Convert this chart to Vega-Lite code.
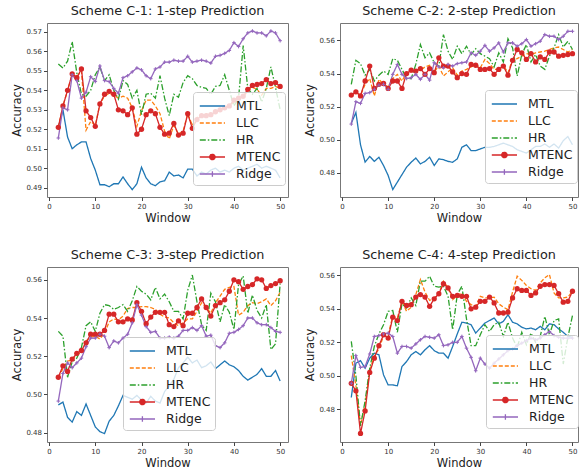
{
  "$schema": "https://vega.github.io/schema/vega-lite/v6.json",
  "background": "white",
  "padding": {"left": 11, "top": 4, "right": 0, "bottom": 0},
  "config": {
    "font": "DejaVu Sans",
    "view": {"stroke": "#777", "strokeWidth": 1},
    "title": {"font": "DejaVu Sans", "fontSize": 12.8, "fontWeight": "normal", "color": "#222", "offset": 5, "anchor": "middle"},
    "axis": {"grid": false, "domain": false, "tickColor": "#444", "tickSize": 3.5, "labelFont": "DejaVu Sans", "labelFontSize": 7, "labelColor": "#333", "labelPadding": 2, "titleFont": "DejaVu Sans", "titleFontSize": 11.5, "titleFontWeight": "normal", "titleColor": "#222", "titlePadding": 3},
    "legend": {
      "orient": "none", "title": null, "symbolType": "stroke", "symbolSize": 324, "symbolStrokeWidth": 1.3,
      "labelFont": "DejaVu Sans", "labelFontSize": 12.5, "labelColor": "#222", "labelOffset": 19,
      "fillColor": "rgba(255,255,255,0.8)", "strokeColor": "#ccc", "cornerRadius": 3, "padding": 4, "rowPadding": 0
    }
  },
  "datasets": {
    "c1": [
      {"w":2,"MTL":0.521,"LLC":0.521,"HR":0.5535,"MTENC":0.521,"Ridge":0.5155},
      {"w":3,"MTL":0.530,"LLC":0.532,"HR":0.5515,"MTENC":0.532,"Ridge":0.531},
      {"w":4,"MTL":0.516,"LLC":0.540,"HR":0.555,"MTENC":0.540,"Ridge":0.530},
      {"w":5,"MTL":0.510,"LLC":0.548,"HR":0.565,"MTENC":0.5485,"Ridge":0.548},
      {"w":6,"MTL":0.512,"LLC":0.547,"HR":0.549,"MTENC":0.5465,"Ridge":0.545},
      {"w":7,"MTL":0.5135,"LLC":0.550,"HR":0.538,"MTENC":0.551,"Ridge":0.536},
      {"w":8,"MTL":0.5135,"LLC":0.5195,"HR":0.537,"MTENC":0.5295,"Ridge":0.539},
      {"w":9,"MTL":0.505,"LLC":0.524,"HR":0.540,"MTENC":0.526,"Ridge":0.547},
      {"w":10,"MTL":0.499,"LLC":0.522,"HR":0.548,"MTENC":0.5215,"Ridge":0.5445},
      {"w":11,"MTL":0.4915,"LLC":0.533,"HR":0.552,"MTENC":0.533,"Ridge":0.5525},
      {"w":12,"MTL":0.4915,"LLC":0.537,"HR":0.545,"MTENC":0.538,"Ridge":0.545},
      {"w":13,"MTL":0.4905,"LLC":0.5385,"HR":0.548,"MTENC":0.5395,"Ridge":0.5445},
      {"w":14,"MTL":0.492,"LLC":0.5375,"HR":0.540,"MTENC":0.538,"Ridge":0.541},
      {"w":15,"MTL":0.492,"LLC":0.536,"HR":0.5355,"MTENC":0.530,"Ridge":0.5385},
      {"w":16,"MTL":0.4955,"LLC":0.537,"HR":0.545,"MTENC":0.5295,"Ridge":0.5465},
      {"w":17,"MTL":0.492,"LLC":0.536,"HR":0.543,"MTENC":0.5275,"Ridge":0.5475},
      {"w":18,"MTL":0.489,"LLC":0.531,"HR":0.536,"MTENC":0.531,"Ridge":0.5495},
      {"w":19,"MTL":0.492,"LLC":0.5215,"HR":0.540,"MTENC":0.5175,"Ridge":0.5515},
      {"w":20,"MTL":0.5005,"LLC":0.5295,"HR":0.5275,"MTENC":0.520,"Ridge":0.5505},
      {"w":21,"MTL":0.495,"LLC":0.535,"HR":0.538,"MTENC":0.5275,"Ridge":0.5475},
      {"w":22,"MTL":0.492,"LLC":0.535,"HR":0.5385,"MTENC":0.5295,"Ridge":0.546},
      {"w":23,"MTL":0.491,"LLC":0.532,"HR":0.536,"MTENC":0.528,"Ridge":0.551},
      {"w":24,"MTL":0.493,"LLC":0.528,"HR":0.5475,"MTENC":0.521,"Ridge":0.552},
      {"w":25,"MTL":0.4935,"LLC":0.519,"HR":0.536,"MTENC":0.5175,"Ridge":0.5545},
      {"w":26,"MTL":0.498,"LLC":0.515,"HR":0.527,"MTENC":0.518,"Ridge":0.5545},
      {"w":27,"MTL":0.496,"LLC":0.522,"HR":0.538,"MTENC":0.523,"Ridge":0.5555},
      {"w":28,"MTL":0.4965,"LLC":0.5175,"HR":0.5365,"MTENC":0.517,"Ridge":0.555},
      {"w":29,"MTL":0.495,"LLC":0.519,"HR":0.544,"MTENC":0.518,"Ridge":0.555},
      {"w":30,"MTL":0.4995,"LLC":0.528,"HR":0.5475,"MTENC":0.528,"Ridge":0.5575},
      {"w":31,"MTL":0.4995,"LLC":0.522,"HR":0.546,"MTENC":0.5205,"Ridge":0.5545},
      {"w":32,"MTL":0.496,"LLC":0.526,"HR":0.5425,"MTENC":0.525,"Ridge":0.555},
      {"w":33,"MTL":0.498,"LLC":0.527,"HR":0.5415,"MTENC":0.527,"Ridge":0.5555},
      {"w":34,"MTL":0.497,"LLC":0.528,"HR":0.541,"MTENC":0.527,"Ridge":0.555},
      {"w":35,"MTL":0.499,"LLC":0.527,"HR":0.538,"MTENC":0.5275,"Ridge":0.554},
      {"w":36,"MTL":0.500,"LLC":0.529,"HR":0.542,"MTENC":0.529,"Ridge":0.5575},
      {"w":37,"MTL":0.498,"LLC":0.530,"HR":0.5425,"MTENC":0.530,"Ridge":0.558},
      {"w":38,"MTL":0.499,"LLC":0.531,"HR":0.548,"MTENC":0.531,"Ridge":0.559},
      {"w":39,"MTL":0.498,"LLC":0.532,"HR":0.540,"MTENC":0.532,"Ridge":0.5605},
      {"w":40,"MTL":0.500,"LLC":0.534,"HR":0.532,"MTENC":0.535,"Ridge":0.5645},
      {"w":41,"MTL":0.501,"LLC":0.537,"HR":0.536,"MTENC":0.536,"Ridge":0.5625},
      {"w":42,"MTL":0.499,"LLC":0.536,"HR":0.563,"MTENC":0.537,"Ridge":0.5665},
      {"w":43,"MTL":0.500,"LLC":0.540,"HR":0.541,"MTENC":0.5405,"Ridge":0.5695},
      {"w":44,"MTL":0.501,"LLC":0.5415,"HR":0.538,"MTENC":0.5425,"Ridge":0.5705},
      {"w":45,"MTL":0.502,"LLC":0.5405,"HR":0.541,"MTENC":0.543,"Ridge":0.5695},
      {"w":46,"MTL":0.500,"LLC":0.5375,"HR":0.534,"MTENC":0.5435,"Ridge":0.5695},
      {"w":47,"MTL":0.501,"LLC":0.541,"HR":0.541,"MTENC":0.5455,"Ridge":0.568},
      {"w":48,"MTL":0.500,"LLC":0.541,"HR":0.552,"MTENC":0.5435,"Ridge":0.5705},
      {"w":49,"MTL":0.499,"LLC":0.542,"HR":0.5415,"MTENC":0.544,"Ridge":0.5695},
      {"w":50,"MTL":0.495,"LLC":0.541,"HR":0.530,"MTENC":0.542,"Ridge":0.5655}
    ],
    "c2": [
      {"w":2,"MTL":0.510,"LLC":0.527,"HR":0.5335,"MTENC":0.527,"Ridge":0.5095},
      {"w":3,"MTL":0.5165,"LLC":0.5285,"HR":0.548,"MTENC":0.529,"Ridge":0.523},
      {"w":4,"MTL":0.497,"LLC":0.527,"HR":0.546,"MTENC":0.5265,"Ridge":0.522},
      {"w":5,"MTL":0.4865,"LLC":0.5335,"HR":0.539,"MTENC":0.5355,"Ridge":0.528},
      {"w":6,"MTL":0.490,"LLC":0.537,"HR":0.5425,"MTENC":0.5445,"Ridge":0.5285},
      {"w":7,"MTL":0.487,"LLC":0.5265,"HR":0.5355,"MTENC":0.531,"Ridge":0.5305},
      {"w":8,"MTL":0.4895,"LLC":0.5365,"HR":0.539,"MTENC":0.5335,"Ridge":0.533},
      {"w":9,"MTL":0.4845,"LLC":0.5335,"HR":0.5415,"MTENC":0.534,"Ridge":0.5335},
      {"w":10,"MTL":0.4785,"LLC":0.532,"HR":0.5395,"MTENC":0.531,"Ridge":0.5305},
      {"w":11,"MTL":0.470,"LLC":0.537,"HR":0.549,"MTENC":0.5355,"Ridge":0.5395},
      {"w":12,"MTL":0.4745,"LLC":0.5395,"HR":0.548,"MTENC":0.5355,"Ridge":0.5455},
      {"w":13,"MTL":0.479,"LLC":0.5355,"HR":0.5425,"MTENC":0.531,"Ridge":0.5395},
      {"w":14,"MTL":0.4835,"LLC":0.5405,"HR":0.537,"MTENC":0.540,"Ridge":0.537},
      {"w":15,"MTL":0.4865,"LLC":0.541,"HR":0.537,"MTENC":0.542,"Ridge":0.5375},
      {"w":16,"MTL":0.489,"LLC":0.5425,"HR":0.5455,"MTENC":0.5415,"Ridge":0.5395},
      {"w":17,"MTL":0.4855,"LLC":0.542,"HR":0.5575,"MTENC":0.543,"Ridge":0.5365},
      {"w":18,"MTL":0.487,"LLC":0.544,"HR":0.5495,"MTENC":0.5395,"Ridge":0.5395},
      {"w":19,"MTL":0.4895,"LLC":0.545,"HR":0.5525,"MTENC":0.543,"Ridge":0.536},
      {"w":20,"MTL":0.4845,"LLC":0.541,"HR":0.5465,"MTENC":0.5405,"Ridge":0.5465},
      {"w":21,"MTL":0.4885,"LLC":0.5445,"HR":0.5445,"MTENC":0.5495,"Ridge":0.544},
      {"w":22,"MTL":0.488,"LLC":0.5385,"HR":0.5635,"MTENC":0.5445,"Ridge":0.5435},
      {"w":23,"MTL":0.487,"LLC":0.541,"HR":0.5535,"MTENC":0.5445,"Ridge":0.5455},
      {"w":24,"MTL":0.4865,"LLC":0.5435,"HR":0.5485,"MTENC":0.541,"Ridge":0.5445},
      {"w":25,"MTL":0.4885,"LLC":0.539,"HR":0.5565,"MTENC":0.5375,"Ridge":0.546},
      {"w":26,"MTL":0.4955,"LLC":0.5415,"HR":0.552,"MTENC":0.540,"Ridge":0.5465},
      {"w":27,"MTL":0.497,"LLC":0.5425,"HR":0.5565,"MTENC":0.5395,"Ridge":0.547},
      {"w":28,"MTL":0.4935,"LLC":0.544,"HR":0.5515,"MTENC":0.5455,"Ridge":0.5525},
      {"w":29,"MTL":0.4935,"LLC":0.5455,"HR":0.555,"MTENC":0.545,"Ridge":0.551},
      {"w":30,"MTL":0.4945,"LLC":0.5435,"HR":0.552,"MTENC":0.5425,"Ridge":0.5535},
      {"w":31,"MTL":0.4955,"LLC":0.5485,"HR":0.5505,"MTENC":0.5425,"Ridge":0.557},
      {"w":32,"MTL":0.4955,"LLC":0.546,"HR":0.549,"MTENC":0.543,"Ridge":0.5535},
      {"w":33,"MTL":0.496,"LLC":0.5425,"HR":0.544,"MTENC":0.5395,"Ridge":0.5555},
      {"w":34,"MTL":0.497,"LLC":0.5425,"HR":0.5525,"MTENC":0.5425,"Ridge":0.5585},
      {"w":35,"MTL":0.498,"LLC":0.545,"HR":0.547,"MTENC":0.5445,"Ridge":0.553},
      {"w":36,"MTL":0.497,"LLC":0.5405,"HR":0.561,"MTENC":0.539,"Ridge":0.5585},
      {"w":37,"MTL":0.496,"LLC":0.5485,"HR":0.5555,"MTENC":0.548,"Ridge":0.5585},
      {"w":38,"MTL":0.494,"LLC":0.549,"HR":0.5385,"MTENC":0.5545,"Ridge":0.5565},
      {"w":39,"MTL":0.493,"LLC":0.5505,"HR":0.5515,"MTENC":0.5525,"Ridge":0.558},
      {"w":40,"MTL":0.492,"LLC":0.552,"HR":0.5575,"MTENC":0.5485,"Ridge":0.5605},
      {"w":41,"MTL":0.494,"LLC":0.5515,"HR":0.547,"MTENC":0.552,"Ridge":0.5565},
      {"w":42,"MTL":0.496,"LLC":0.5525,"HR":0.5515,"MTENC":0.547,"Ridge":0.558},
      {"w":43,"MTL":0.496,"LLC":0.553,"HR":0.5445,"MTENC":0.550,"Ridge":0.5595},
      {"w":44,"MTL":0.4975,"LLC":0.5535,"HR":0.5425,"MTENC":0.5485,"Ridge":0.5635},
      {"w":45,"MTL":0.4955,"LLC":0.5545,"HR":0.5505,"MTENC":0.553,"Ridge":0.5625},
      {"w":46,"MTL":0.4975,"LLC":0.5555,"HR":0.5555,"MTENC":0.553,"Ridge":0.5625},
      {"w":47,"MTL":0.495,"LLC":0.556,"HR":0.5635,"MTENC":0.5505,"Ridge":0.5605},
      {"w":48,"MTL":0.4995,"LLC":0.5545,"HR":0.556,"MTENC":0.551,"Ridge":0.5625},
      {"w":49,"MTL":0.502,"LLC":0.553,"HR":0.5595,"MTENC":0.5515,"Ridge":0.5655},
      {"w":50,"MTL":0.497,"LLC":0.5545,"HR":0.5545,"MTENC":0.552,"Ridge":0.5655}
    ],
    "c3": [
      {"w":2,"MTL":0.4945,"LLC":0.509,"HR":0.533,"MTENC":0.509,"Ridge":0.4965},
      {"w":3,"MTL":0.496,"LLC":0.5135,"HR":0.5305,"MTENC":0.515,"Ridge":0.511},
      {"w":4,"MTL":0.488,"LLC":0.5175,"HR":0.509,"MTENC":0.512,"Ridge":0.5165},
      {"w":5,"MTL":0.4855,"LLC":0.518,"HR":0.517,"MTENC":0.5185,"Ridge":0.514},
      {"w":6,"MTL":0.491,"LLC":0.521,"HR":0.519,"MTENC":0.5215,"Ridge":0.5165},
      {"w":7,"MTL":0.489,"LLC":0.522,"HR":0.5245,"MTENC":0.523,"Ridge":0.519},
      {"w":8,"MTL":0.495,"LLC":0.528,"HR":0.536,"MTENC":0.527,"Ridge":0.525},
      {"w":9,"MTL":0.489,"LLC":0.530,"HR":0.538,"MTENC":0.5315,"Ridge":0.5295},
      {"w":10,"MTL":0.483,"LLC":0.5305,"HR":0.533,"MTENC":0.5315,"Ridge":0.5295},
      {"w":11,"MTL":0.4805,"LLC":0.529,"HR":0.5425,"MTENC":0.5315,"Ridge":0.5315},
      {"w":12,"MTL":0.4795,"LLC":0.532,"HR":0.547,"MTENC":0.5335,"Ridge":0.5305},
      {"w":13,"MTL":0.486,"LLC":0.538,"HR":0.5465,"MTENC":0.542,"Ridge":0.5245},
      {"w":14,"MTL":0.489,"LLC":0.5395,"HR":0.5445,"MTENC":0.542,"Ridge":0.528},
      {"w":15,"MTL":0.494,"LLC":0.539,"HR":0.5455,"MTENC":0.538,"Ridge":0.527},
      {"w":16,"MTL":0.4995,"LLC":0.541,"HR":0.547,"MTENC":0.538,"Ridge":0.5295},
      {"w":17,"MTL":0.4985,"LLC":0.545,"HR":0.5435,"MTENC":0.5395,"Ridge":0.5315},
      {"w":18,"MTL":0.4975,"LLC":0.5455,"HR":0.549,"MTENC":0.539,"Ridge":0.5375},
      {"w":19,"MTL":0.4995,"LLC":0.5455,"HR":0.5565,"MTENC":0.548,"Ridge":0.547},
      {"w":20,"MTL":0.497,"LLC":0.546,"HR":0.554,"MTENC":0.5435,"Ridge":0.5415},
      {"w":21,"MTL":0.4955,"LLC":0.546,"HR":0.5525,"MTENC":0.537,"Ridge":0.5355},
      {"w":22,"MTL":0.499,"LLC":0.5455,"HR":0.5495,"MTENC":0.5405,"Ridge":0.5325},
      {"w":23,"MTL":0.4965,"LLC":0.5445,"HR":0.556,"MTENC":0.543,"Ridge":0.533},
      {"w":24,"MTL":0.4955,"LLC":0.542,"HR":0.550,"MTENC":0.543,"Ridge":0.5295},
      {"w":25,"MTL":0.5015,"LLC":0.5405,"HR":0.5525,"MTENC":0.543,"Ridge":0.5295},
      {"w":26,"MTL":0.5045,"LLC":0.540,"HR":0.5485,"MTENC":0.5365,"Ridge":0.530},
      {"w":27,"MTL":0.508,"LLC":0.5375,"HR":0.5435,"MTENC":0.5355,"Ridge":0.5295},
      {"w":28,"MTL":0.514,"LLC":0.536,"HR":0.5435,"MTENC":0.5385,"Ridge":0.5305},
      {"w":29,"MTL":0.5165,"LLC":0.5375,"HR":0.5395,"MTENC":0.536,"Ridge":0.5335},
      {"w":30,"MTL":0.5195,"LLC":0.5395,"HR":0.5545,"MTENC":0.5425,"Ridge":0.5335},
      {"w":31,"MTL":0.5165,"LLC":0.5395,"HR":0.5625,"MTENC":0.5425,"Ridge":0.535},
      {"w":32,"MTL":0.518,"LLC":0.5435,"HR":0.5485,"MTENC":0.5455,"Ridge":0.5335},
      {"w":33,"MTL":0.514,"LLC":0.548,"HR":0.5365,"MTENC":0.550,"Ridge":0.536},
      {"w":34,"MTL":0.515,"LLC":0.5455,"HR":0.5335,"MTENC":0.5455,"Ridge":0.5305},
      {"w":35,"MTL":0.517,"LLC":0.5425,"HR":0.553,"MTENC":0.541,"Ridge":0.531},
      {"w":36,"MTL":0.5135,"LLC":0.548,"HR":0.5485,"MTENC":0.5465,"Ridge":0.5255},
      {"w":37,"MTL":0.5155,"LLC":0.5515,"HR":0.538,"MTENC":0.548,"Ridge":0.5245},
      {"w":38,"MTL":0.5175,"LLC":0.555,"HR":0.547,"MTENC":0.5495,"Ridge":0.527},
      {"w":39,"MTL":0.5155,"LLC":0.556,"HR":0.543,"MTENC":0.554,"Ridge":0.532},
      {"w":40,"MTL":0.5145,"LLC":0.5565,"HR":0.534,"MTENC":0.560,"Ridge":0.5325},
      {"w":41,"MTL":0.5125,"LLC":0.5415,"HR":0.5575,"MTENC":0.559,"Ridge":0.534},
      {"w":42,"MTL":0.5095,"LLC":0.543,"HR":0.562,"MTENC":0.555,"Ridge":0.536},
      {"w":43,"MTL":0.5075,"LLC":0.5465,"HR":0.5425,"MTENC":0.5565,"Ridge":0.540},
      {"w":44,"MTL":0.509,"LLC":0.548,"HR":0.552,"MTENC":0.5575,"Ridge":0.540},
      {"w":45,"MTL":0.5105,"LLC":0.5475,"HR":0.544,"MTENC":0.5605,"Ridge":0.5375},
      {"w":46,"MTL":0.5135,"LLC":0.5485,"HR":0.540,"MTENC":0.560,"Ridge":0.5365},
      {"w":47,"MTL":0.5095,"LLC":0.550,"HR":0.547,"MTENC":0.5555,"Ridge":0.5365},
      {"w":48,"MTL":0.5095,"LLC":0.5465,"HR":0.5235,"MTENC":0.557,"Ridge":0.535},
      {"w":49,"MTL":0.5125,"LLC":0.549,"HR":0.5265,"MTENC":0.558,"Ridge":0.533},
      {"w":50,"MTL":0.507,"LLC":0.5535,"HR":0.558,"MTENC":0.5595,"Ridge":0.5325}
    ],
    "c4": [
      {"w":2,"MTL":0.487,"LLC":0.512,"HR":0.5205,"MTENC":0.4955,"Ridge":0.4955},
      {"w":3,"MTL":0.5075,"LLC":0.494,"HR":0.500,"MTENC":0.491,"Ridge":0.512},
      {"w":4,"MTL":0.509,"LLC":0.4705,"HR":0.470,"MTENC":0.4655,"Ridge":0.505},
      {"w":5,"MTL":0.5045,"LLC":0.483,"HR":0.485,"MTENC":0.479,"Ridge":0.5055},
      {"w":6,"MTL":0.5105,"LLC":0.503,"HR":0.5045,"MTENC":0.502,"Ridge":0.513},
      {"w":7,"MTL":0.5135,"LLC":0.512,"HR":0.5175,"MTENC":0.5105,"Ridge":0.5235},
      {"w":8,"MTL":0.5125,"LLC":0.516,"HR":0.525,"MTENC":0.518,"Ridge":0.524},
      {"w":9,"MTL":0.5005,"LLC":0.524,"HR":0.5305,"MTENC":0.5245,"Ridge":0.525},
      {"w":10,"MTL":0.4945,"LLC":0.5245,"HR":0.5385,"MTENC":0.5225,"Ridge":0.5255},
      {"w":11,"MTL":0.4945,"LLC":0.5355,"HR":0.539,"MTENC":0.535,"Ridge":0.5235},
      {"w":12,"MTL":0.494,"LLC":0.5345,"HR":0.526,"MTENC":0.533,"Ridge":0.5135},
      {"w":13,"MTL":0.5055,"LLC":0.5445,"HR":0.543,"MTENC":0.5445,"Ridge":0.5175},
      {"w":14,"MTL":0.5085,"LLC":0.5385,"HR":0.5405,"MTENC":0.542,"Ridge":0.5175},
      {"w":15,"MTL":0.5125,"LLC":0.541,"HR":0.5465,"MTENC":0.5425,"Ridge":0.5165},
      {"w":16,"MTL":0.5145,"LLC":0.5485,"HR":0.542,"MTENC":0.547,"Ridge":0.519},
      {"w":17,"MTL":0.5125,"LLC":0.5575,"HR":0.5565,"MTENC":0.5485,"Ridge":0.5215},
      {"w":18,"MTL":0.5155,"LLC":0.550,"HR":0.5565,"MTENC":0.547,"Ridge":0.5235},
      {"w":19,"MTL":0.518,"LLC":0.545,"HR":0.5595,"MTENC":0.5415,"Ridge":0.523},
      {"w":20,"MTL":0.515,"LLC":0.5465,"HR":0.5535,"MTENC":0.546,"Ridge":0.5225},
      {"w":21,"MTL":0.5135,"LLC":0.549,"HR":0.553,"MTENC":0.549,"Ridge":0.5245},
      {"w":22,"MTL":0.5135,"LLC":0.5565,"HR":0.5535,"MTENC":0.555,"Ridge":0.518},
      {"w":23,"MTL":0.5105,"LLC":0.5525,"HR":0.5475,"MTENC":0.5525,"Ridge":0.5185},
      {"w":24,"MTL":0.5175,"LLC":0.5455,"HR":0.5275,"MTENC":0.5475,"Ridge":0.520},
      {"w":25,"MTL":0.525,"LLC":0.548,"HR":0.5485,"MTENC":0.548,"Ridge":0.520},
      {"w":26,"MTL":0.532,"LLC":0.5495,"HR":0.5535,"MTENC":0.5475,"Ridge":0.5235},
      {"w":27,"MTL":0.5315,"LLC":0.5445,"HR":0.534,"MTENC":0.5475,"Ridge":0.5165},
      {"w":28,"MTL":0.5305,"LLC":0.5425,"HR":0.518,"MTENC":0.540,"Ridge":0.511},
      {"w":29,"MTL":0.5255,"LLC":0.5415,"HR":0.518,"MTENC":0.541,"Ridge":0.503},
      {"w":30,"MTL":0.5285,"LLC":0.5475,"HR":0.5245,"MTENC":0.5445,"Ridge":0.5105},
      {"w":31,"MTL":0.5315,"LLC":0.5465,"HR":0.5305,"MTENC":0.5445,"Ridge":0.507},
      {"w":32,"MTL":0.533,"LLC":0.5465,"HR":0.5265,"MTENC":0.547,"Ridge":0.5045},
      {"w":33,"MTL":0.5345,"LLC":0.547,"HR":0.5305,"MTENC":0.5435,"Ridge":0.5075},
      {"w":34,"MTL":0.531,"LLC":0.543,"HR":0.532,"MTENC":0.5375,"Ridge":0.510},
      {"w":35,"MTL":0.5325,"LLC":0.541,"HR":0.5235,"MTENC":0.5375,"Ridge":0.5125},
      {"w":36,"MTL":0.5365,"LLC":0.5395,"HR":0.532,"MTENC":0.538,"Ridge":0.515},
      {"w":37,"MTL":0.532,"LLC":0.550,"HR":0.5225,"MTENC":0.5465,"Ridge":0.516},
      {"w":38,"MTL":0.531,"LLC":0.5595,"HR":0.517,"MTENC":0.552,"Ridge":0.518},
      {"w":39,"MTL":0.529,"LLC":0.557,"HR":0.526,"MTENC":0.551,"Ridge":0.5195},
      {"w":40,"MTL":0.528,"LLC":0.554,"HR":0.5185,"MTENC":0.551,"Ridge":0.521},
      {"w":41,"MTL":0.5285,"LLC":0.552,"HR":0.5255,"MTENC":0.548,"Ridge":0.5225},
      {"w":42,"MTL":0.5275,"LLC":0.551,"HR":0.520,"MTENC":0.5495,"Ridge":0.5215},
      {"w":43,"MTL":0.5295,"LLC":0.5555,"HR":0.5235,"MTENC":0.5535,"Ridge":0.5225},
      {"w":44,"MTL":0.5275,"LLC":0.5585,"HR":0.5355,"MTENC":0.5545,"Ridge":0.5245},
      {"w":45,"MTL":0.531,"LLC":0.5605,"HR":0.5245,"MTENC":0.5545,"Ridge":0.5265},
      {"w":46,"MTL":0.5305,"LLC":0.5495,"HR":0.533,"MTENC":0.554,"Ridge":0.524},
      {"w":47,"MTL":0.528,"LLC":0.5465,"HR":0.534,"MTENC":0.549,"Ridge":0.523},
      {"w":48,"MTL":0.526,"LLC":0.5465,"HR":0.507,"MTENC":0.544,"Ridge":0.5225},
      {"w":49,"MTL":0.5235,"LLC":0.547,"HR":0.523,"MTENC":0.5445,"Ridge":0.5225},
      {"w":50,"MTL":0.523,"LLC":0.5505,"HR":0.536,"MTENC":0.5505,"Ridge":0.5225}
    ]
  },
  "columns": 2,
  "spacing": {"row": 70, "column": 52},
  "bounds": "flush",
  "resolve": {
    "scale": {"x": "independent", "y": "independent", "color": "independent", "strokeDash": "independent"},
    "legend": {"color": "independent"}
  },
  "concat": [
    {
      "width": 241, "height": 174,
      "title": "Scheme C-1: 1-step Prediction",
      "data": {"name": "c1"},
      "transform": [{"fold": ["MTL", "LLC", "HR", "MTENC", "Ridge"], "as": ["model", "acc"]}],
      "encoding": {
        "x": {"field": "w", "type": "quantitative", "title": "Window", "scale": {"domain": [-0.45, 51.7], "nice": false, "zero": false}, "axis": {"values": [0, 10, 20, 30, 40, 50], "format": "d"}},
        "y": {"field": "acc", "type": "quantitative", "title": "Accuracy", "scale": {"domain": [0.4852, 0.5746], "nice": false, "zero": false}, "axis": {"values": [0.49, 0.50, 0.51, 0.52, 0.53, 0.54, 0.55, 0.56, 0.57], "format": ".2f"}}
      },
      "layer": [
        {
          "mark": {"type": "line", "strokeWidth": 1.3},
          "encoding": {
            "color": {"field": "model", "type": "nominal", "sort": null,
              "scale": {"domain": ["MTL", "LLC", "HR", "MTENC", "Ridge"], "range": ["#1f77b4", "#ff7f0e", "#2ca02c", "#d62728", "#9467bd"]},
              "legend": {"legendX": 146, "legendY": 69,
                "encode": {"symbols": {"update": {
                  "shape": {"signal": "datum.value === 'MTENC' ? 'M-0.8,0L2,0M0.9,0A0.3,0.3,0,1,1,0.3,0A0.3,0.3,0,1,1,0.9,0' : datum.value === 'Ridge' ? 'M-0.8,0L2,0M0.6,-0.3L0.6,0.3' : 'M-0.8,0L2,0'"},
                  "fill": {"signal": "datum.value === 'MTENC' ? '#d62728' : 'transparent'"},
                  "strokeDash": {"signal": "datum.value === 'LLC' ? [4,2] : datum.value === 'HR' ? [6,2,1.5,2] : [1,0]"}
                }}}}},
            "strokeDash": {"field": "model", "type": "nominal", "legend": null,
              "scale": {"domain": ["MTL", "LLC", "HR", "MTENC", "Ridge"], "range": [[1, 0], [4, 2], [6, 2, 1.5, 2], [1, 0], [1, 0]]}}
          }
        },
        {
          "transform": [{"filter": "datum.model === 'MTENC'"}],
          "mark": {"type": "point", "filled": true, "size": 28, "opacity": 1, "color": "#d62728"}
        },
        {
          "transform": [{"filter": "datum.model === 'Ridge'"}],
          "mark": {"type": "point", "shape": "M-1,0L1,0M0,-1L0,1", "size": 13, "filled": false, "opacity": 1, "strokeWidth": 1, "color": "#9467bd"}
        }
      ]
    },
    {
      "width": 238, "height": 174,
      "title": "Scheme C-2: 2-step Prediction",
      "data": {"name": "c2"},
      "transform": [{"fold": ["MTL", "LLC", "HR", "MTENC", "Ridge"], "as": ["model", "acc"]}],
      "encoding": {
        "x": {"field": "w", "type": "quantitative", "title": "Window", "scale": {"domain": [-0.45, 51.2], "nice": false, "zero": false}, "axis": {"values": [0, 10, 20, 30, 40, 50], "format": "d"}},
        "y": {"field": "acc", "type": "quantitative", "title": "Accuracy", "scale": {"domain": [0.4655, 0.5705], "nice": false, "zero": false}, "axis": {"values": [0.48, 0.50, 0.52, 0.54, 0.56], "format": ".2f"}}
      },
      "layer": [
        {
          "mark": {"type": "line", "strokeWidth": 1.3},
          "encoding": {
            "color": {"field": "model", "type": "nominal", "sort": null,
              "scale": {"domain": ["MTL", "LLC", "HR", "MTENC", "Ridge"], "range": ["#1f77b4", "#ff7f0e", "#2ca02c", "#d62728", "#9467bd"]},
              "legend": {"legendX": 145, "legendY": 67,
                "encode": {"symbols": {"update": {
                  "shape": {"signal": "datum.value === 'MTENC' ? 'M-0.8,0L2,0M0.9,0A0.3,0.3,0,1,1,0.3,0A0.3,0.3,0,1,1,0.9,0' : datum.value === 'Ridge' ? 'M-0.8,0L2,0M0.6,-0.3L0.6,0.3' : 'M-0.8,0L2,0'"},
                  "fill": {"signal": "datum.value === 'MTENC' ? '#d62728' : 'transparent'"},
                  "strokeDash": {"signal": "datum.value === 'LLC' ? [4,2] : datum.value === 'HR' ? [6,2,1.5,2] : [1,0]"}
                }}}}},
            "strokeDash": {"field": "model", "type": "nominal", "legend": null,
              "scale": {"domain": ["MTL", "LLC", "HR", "MTENC", "Ridge"], "range": [[1, 0], [4, 2], [6, 2, 1.5, 2], [1, 0], [1, 0]]}}
          }
        },
        {
          "transform": [{"filter": "datum.model === 'MTENC'"}],
          "mark": {"type": "point", "filled": true, "size": 28, "opacity": 1, "color": "#d62728"}
        },
        {
          "transform": [{"filter": "datum.model === 'Ridge'"}],
          "mark": {"type": "point", "shape": "M-1,0L1,0M0,-1L0,1", "size": 13, "filled": false, "opacity": 1, "strokeWidth": 1, "color": "#9467bd"}
        }
      ]
    },
    {
      "width": 241, "height": 175,
      "title": "Scheme C-3: 3-step Prediction",
      "data": {"name": "c3"},
      "transform": [{"fold": ["MTL", "LLC", "HR", "MTENC", "Ridge"], "as": ["model", "acc"]}],
      "encoding": {
        "x": {"field": "w", "type": "quantitative", "title": "Window", "scale": {"domain": [-0.45, 51.7], "nice": false, "zero": false}, "axis": {"values": [0, 10, 20, 30, 40, 50], "format": "d"}},
        "y": {"field": "acc", "type": "quantitative", "title": "Accuracy", "scale": {"domain": [0.4751, 0.5667], "nice": false, "zero": false}, "axis": {"values": [0.48, 0.50, 0.52, 0.54, 0.56], "format": ".2f"}}
      },
      "layer": [
        {
          "mark": {"type": "line", "strokeWidth": 1.3},
          "encoding": {
            "color": {"field": "model", "type": "nominal", "sort": null,
              "scale": {"domain": ["MTL", "LLC", "HR", "MTENC", "Ridge"], "range": ["#1f77b4", "#ff7f0e", "#2ca02c", "#d62728", "#9467bd"]},
              "legend": {"legendX": 76, "legendY": 70,
                "encode": {"symbols": {"update": {
                  "shape": {"signal": "datum.value === 'MTENC' ? 'M-0.8,0L2,0M0.9,0A0.3,0.3,0,1,1,0.3,0A0.3,0.3,0,1,1,0.9,0' : datum.value === 'Ridge' ? 'M-0.8,0L2,0M0.6,-0.3L0.6,0.3' : 'M-0.8,0L2,0'"},
                  "fill": {"signal": "datum.value === 'MTENC' ? '#d62728' : 'transparent'"},
                  "strokeDash": {"signal": "datum.value === 'LLC' ? [4,2] : datum.value === 'HR' ? [6,2,1.5,2] : [1,0]"}
                }}}}},
            "strokeDash": {"field": "model", "type": "nominal", "legend": null,
              "scale": {"domain": ["MTL", "LLC", "HR", "MTENC", "Ridge"], "range": [[1, 0], [4, 2], [6, 2, 1.5, 2], [1, 0], [1, 0]]}}
          }
        },
        {
          "transform": [{"filter": "datum.model === 'MTENC'"}],
          "mark": {"type": "point", "filled": true, "size": 28, "opacity": 1, "color": "#d62728"}
        },
        {
          "transform": [{"filter": "datum.model === 'Ridge'"}],
          "mark": {"type": "point", "shape": "M-1,0L1,0M0,-1L0,1", "size": 13, "filled": false, "opacity": 1, "strokeWidth": 1, "color": "#9467bd"}
        }
      ]
    },
    {
      "width": 238, "height": 175,
      "title": "Scheme C-4: 4-step Prediction",
      "data": {"name": "c4"},
      "transform": [{"fold": ["MTL", "LLC", "HR", "MTENC", "Ridge"], "as": ["model", "acc"]}],
      "encoding": {
        "x": {"field": "w", "type": "quantitative", "title": "Window", "scale": {"domain": [-0.45, 51.2], "nice": false, "zero": false}, "axis": {"values": [0, 10, 20, 30, 40, 50], "format": "d"}},
        "y": {"field": "acc", "type": "quantitative", "title": "Accuracy", "scale": {"domain": [0.4604, 0.565], "nice": false, "zero": false}, "axis": {"values": [0.48, 0.50, 0.52, 0.54, 0.56], "format": ".2f"}}
      },
      "layer": [
        {
          "mark": {"type": "line", "strokeWidth": 1.3},
          "encoding": {
            "color": {"field": "model", "type": "nominal", "sort": null,
              "scale": {"domain": ["MTL", "LLC", "HR", "MTENC", "Ridge"], "range": ["#1f77b4", "#ff7f0e", "#2ca02c", "#d62728", "#9467bd"]},
              "legend": {"legendX": 146, "legendY": 68,
                "encode": {"symbols": {"update": {
                  "shape": {"signal": "datum.value === 'MTENC' ? 'M-0.8,0L2,0M0.9,0A0.3,0.3,0,1,1,0.3,0A0.3,0.3,0,1,1,0.9,0' : datum.value === 'Ridge' ? 'M-0.8,0L2,0M0.6,-0.3L0.6,0.3' : 'M-0.8,0L2,0'"},
                  "fill": {"signal": "datum.value === 'MTENC' ? '#d62728' : 'transparent'"},
                  "strokeDash": {"signal": "datum.value === 'LLC' ? [4,2] : datum.value === 'HR' ? [6,2,1.5,2] : [1,0]"}
                }}}}},
            "strokeDash": {"field": "model", "type": "nominal", "legend": null,
              "scale": {"domain": ["MTL", "LLC", "HR", "MTENC", "Ridge"], "range": [[1, 0], [4, 2], [6, 2, 1.5, 2], [1, 0], [1, 0]]}}
          }
        },
        {
          "transform": [{"filter": "datum.model === 'MTENC'"}],
          "mark": {"type": "point", "filled": true, "size": 28, "opacity": 1, "color": "#d62728"}
        },
        {
          "transform": [{"filter": "datum.model === 'Ridge'"}],
          "mark": {"type": "point", "shape": "M-1,0L1,0M0,-1L0,1", "size": 13, "filled": false, "opacity": 1, "strokeWidth": 1, "color": "#9467bd"}
        }
      ]
    }
  ]
}
